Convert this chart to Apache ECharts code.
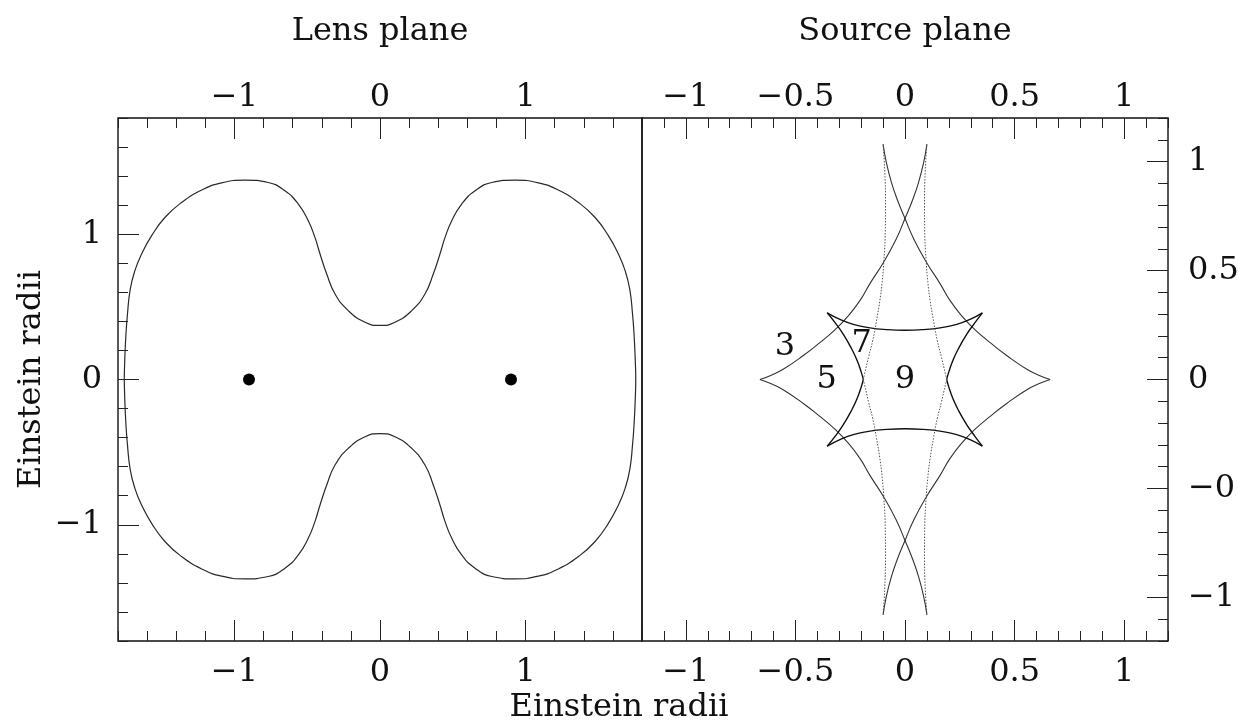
<!DOCTYPE html>
<html>
<head>
<meta charset="utf-8">
<script src="https://cdn.jsdelivr.net/npm/echarts@6/dist/echarts.min.js"></script>
<style>
  html, body { margin: 0; padding: 0; background: #fff; }
  #chart { width: 1238px; height: 721px; }
</style>
</head>
<body>
<div id="chart"></div>
<script>
// Tick values and labels
const lensTicks = [-1, 0, 1];
const sourceTicks = [-1, -0.5, 0, 0.5, 1];

// Point masses in the lens plane (Einstein radii)
const lensPositions = [[-0.9, 0], [0.9, 0]];

// Critical curve in the lens plane, traced once around
const criticalCurve = [
  [-1.757, 0.000], [-1.753, 0.150], [-1.746, 0.300], [-1.735, 0.450], [-1.716, 0.620],
  [-1.684, 0.749], [-1.638, 0.864], [-1.569, 0.990], [-1.478, 1.115], [-1.363, 1.219],
  [-1.225, 1.304], [-1.088, 1.354], [-0.928, 1.372], [-0.768, 1.356], [-0.653, 1.299],
  [-0.561, 1.207], [-0.493, 1.093], [-0.447, 0.978], [-0.412, 0.864], [-0.366, 0.726],
  [-0.309, 0.589], [-0.218, 0.474], [-0.103, 0.394], [0.000, 0.372],
  [0.103, 0.394], [0.218, 0.474], [0.309, 0.589], [0.366, 0.726], [0.412, 0.864],
  [0.447, 0.978], [0.493, 1.093], [0.561, 1.207], [0.653, 1.299], [0.768, 1.356],
  [0.928, 1.372], [1.088, 1.354], [1.225, 1.304], [1.363, 1.219], [1.478, 1.115],
  [1.569, 0.990], [1.638, 0.864], [1.684, 0.749], [1.716, 0.620], [1.735, 0.450],
  [1.746, 0.300], [1.753, 0.150], [1.757, 0.000],
  [1.753, -0.150], [1.746, -0.300], [1.735, -0.450], [1.716, -0.620], [1.684, -0.749],
  [1.638, -0.864], [1.569, -0.990], [1.478, -1.115], [1.363, -1.219], [1.225, -1.304],
  [1.088, -1.354], [0.928, -1.372], [0.768, -1.356], [0.653, -1.299], [0.561, -1.207],
  [0.493, -1.093], [0.447, -0.978], [0.412, -0.864], [0.366, -0.726], [0.309, -0.589],
  [0.218, -0.474], [0.103, -0.394], [0.000, -0.372],
  [-0.103, -0.394], [-0.218, -0.474], [-0.309, -0.589], [-0.366, -0.726], [-0.412, -0.864],
  [-0.447, -0.978], [-0.493, -1.093], [-0.561, -1.207], [-0.653, -1.299], [-0.768, -1.356],
  [-0.928, -1.372], [-1.088, -1.354], [-1.225, -1.304], [-1.363, -1.219], [-1.478, -1.115],
  [-1.569, -0.990], [-1.638, -0.864], [-1.684, -0.749], [-1.716, -0.620], [-1.735, -0.450],
  [-1.746, -0.300], [-1.753, -0.150], [-1.757, 0.000]
];

// Caustic in the source plane: long folds from the side cusps to the tall cusps
const foldLeftUpper = [
  [-0.662, 0.000], [-0.610, 0.020], [-0.556, 0.047], [-0.464, 0.110], [-0.390, 0.168],
  [-0.320, 0.228], [-0.265, 0.285], [-0.205, 0.363], [-0.160, 0.440], [-0.099, 0.536],
  [-0.040, 0.645], [0.000, 0.739], [0.035, 0.825], [0.062, 0.905], [0.085, 0.995], [0.100, 1.080]
];
const foldLeftLower = [
  [-0.662, 0.000], [-0.610, -0.020], [-0.556, -0.047], [-0.464, -0.110], [-0.390, -0.168],
  [-0.320, -0.228], [-0.265, -0.285], [-0.205, -0.363], [-0.160, -0.440], [-0.099, -0.536],
  [-0.040, -0.645], [0.000, -0.739], [0.035, -0.825], [0.062, -0.905], [0.085, -0.995], [0.100, -1.080]
];
const foldRightUpper = [
  [0.662, 0.000], [0.610, 0.020], [0.556, 0.047], [0.464, 0.110], [0.390, 0.168],
  [0.320, 0.228], [0.265, 0.285], [0.205, 0.363], [0.160, 0.440], [0.099, 0.536],
  [0.040, 0.645], [0.000, 0.739], [-0.035, 0.825], [-0.062, 0.905], [-0.085, 0.995], [-0.100, 1.080]
];
const foldRightLower = [
  [0.662, 0.000], [0.610, -0.020], [0.556, -0.047], [0.464, -0.110], [0.390, -0.168],
  [0.320, -0.228], [0.265, -0.285], [0.205, -0.363], [0.160, -0.440], [0.099, -0.536],
  [0.040, -0.645], [0.000, -0.739], [-0.035, -0.825], [-0.062, -0.905], [-0.085, -0.995], [-0.100, -1.080]
];

// Inner caustic edges between the four short cusps
const edgeTop = [
  [-0.355, 0.306], [-0.297, 0.276], [-0.236, 0.253], [-0.160, 0.237], [-0.084, 0.229],
  [0.000, 0.226], [0.084, 0.229], [0.160, 0.237], [0.236, 0.253], [0.297, 0.276], [0.353, 0.306]
];
const edgeBottom = [
  [-0.355, -0.306], [-0.297, -0.276], [-0.236, -0.253], [-0.160, -0.237], [-0.084, -0.229],
  [0.000, -0.226], [0.084, -0.229], [0.160, -0.237], [0.236, -0.253], [0.297, -0.276], [0.353, -0.306]
];
const edgeLeftUpper = [
  [-0.355, 0.306], [-0.320, 0.262], [-0.282, 0.208], [-0.243, 0.140], [-0.218, 0.086],
  [-0.200, 0.035], [-0.190, 0.000]
];
const edgeLeftLower = [
  [-0.355, -0.306], [-0.320, -0.262], [-0.282, -0.208], [-0.243, -0.140], [-0.218, -0.086],
  [-0.200, -0.035], [-0.190, 0.000]
];
const edgeRightUpper = [
  [0.353, 0.306], [0.320, 0.262], [0.282, 0.208], [0.243, 0.140], [0.218, 0.086],
  [0.200, 0.035], [0.190, 0.000]
];
const edgeRightLower = [
  [0.353, -0.306], [0.320, -0.262], [0.282, -0.208], [0.243, -0.140], [0.218, -0.086],
  [0.200, -0.035], [0.190, 0.000]
];

// Near-vertical branches running to the tall cusps
const stemLeftUpper = [
  [-0.190, 0.000], [-0.167, 0.100], [-0.147, 0.180], [-0.130, 0.270], [-0.115, 0.360],
  [-0.104, 0.450], [-0.096, 0.550], [-0.090, 0.680], [-0.089, 0.800], [-0.092, 0.950], [-0.100, 1.080]
];
const stemLeftLower = [
  [-0.190, 0.000], [-0.167, -0.100], [-0.147, -0.180], [-0.130, -0.270], [-0.115, -0.360],
  [-0.104, -0.450], [-0.096, -0.550], [-0.090, -0.680], [-0.089, -0.800], [-0.092, -0.950], [-0.100, -1.080]
];
const stemRightUpper = [
  [0.190, 0.000], [0.167, 0.100], [0.147, 0.180], [0.130, 0.270], [0.115, 0.360],
  [0.104, 0.450], [0.096, 0.550], [0.090, 0.680], [0.089, 0.800], [0.092, 0.950], [0.100, 1.080]
];
const stemRightLower = [
  [0.190, 0.000], [0.167, -0.100], [0.147, -0.180], [0.130, -0.270], [0.115, -0.360],
  [0.104, -0.450], [0.096, -0.550], [0.090, -0.680], [0.089, -0.800], [0.092, -0.950], [0.100, -1.080]
];

// Image multiplicity of each source-plane region
const regionCounts = ['3', '5', '7', '9'];
const regionX = [-0.548, -0.357, -0.198, 0.000];
const regionY = [0.152, 0.000, 0.165, 0.000];

const FONT = 'DejaVu Serif';
const TEXT = '#111';
const fmt = v => String(v).replace('-', '\u2212');

function majorAxis(gridIndex, position, lo, hi, ticks, extra) {
  return Object.assign({
    type: 'value', gridIndex, position, min: lo, max: hi,
    axisLine: { show: false, onZero: false },
    splitLine: { show: false },
    axisTick: { show: true, inside: true, length: 21, customValues: ticks,
                lineStyle: { color: '#222', width: 1 } },
    axisLabel: { show: true, customValues: ticks, formatter: fmt,
                 fontFamily: FONT, fontSize: 32, color: TEXT, margin: 12 }
  }, extra || {});
}
function minorAxis(gridIndex, position, lo, hi, step) {
  return {
    type: 'value', gridIndex, position, min: lo, max: hi, interval: step,
    axisLine: { show: false, onZero: false },
    splitLine: { show: false },
    axisTick: { show: true, inside: true, length: 10, lineStyle: { color: '#222', width: 1 } },
    axisLabel: { show: false }
  };
}
function bareAxis(gridIndex, position, lo, hi) {
  return {
    type: 'value', gridIndex, position, min: lo, max: hi,
    axisLine: { show: false, onZero: false }, splitLine: { show: false },
    axisTick: { show: false }, axisLabel: { show: false }
  };
}

const nameStyle = { fontFamily: FONT, fontSize: 32, color: TEXT };

const xAxis = [
  majorAxis(0, 'bottom', -1.8, 1.8, lensTicks),
  majorAxis(0, 'top', -1.8, 1.8, lensTicks, {
    name: 'Lens plane', nameLocation: 'middle', nameGap: 70, nameTextStyle: nameStyle
  }),
  minorAxis(1, 'bottom', -1.8, 1.8, 0.2),
  minorAxis(1, 'top', -1.8, 1.8, 0.2),
  majorAxis(2, 'bottom', -1.2, 1.2, sourceTicks),
  majorAxis(2, 'top', -1.2, 1.2, sourceTicks, {
    name: 'Source plane', nameLocation: 'middle', nameGap: 70, nameTextStyle: nameStyle
  }),
  minorAxis(3, 'bottom', -1.2, 1.2, 0.1),
  minorAxis(3, 'top', -1.2, 1.2, 0.1)
];
xAxis[0].axisLabel.margin = 16;
xAxis[4].axisLabel.margin = 16;
xAxis[1].axisLabel.margin = 4;
xAxis[5].axisLabel.margin = 4;

const yAxis = [
  majorAxis(0, 'left', -1.8, 1.8, lensTicks, {
    name: 'Einstein radii', nameLocation: 'middle', nameGap: 70, nameRotate: 90,
    nameTextStyle: nameStyle
  }),
  bareAxis(0, 'right', -1.8, 1.8),
  minorAxis(1, 'left', -1.8, 1.8, 0.2),
  majorAxis(2, 'right', -1.2, 1.2, sourceTicks),
  bareAxis(2, 'left', -1.2, 1.2),
  minorAxis(3, 'right', -1.2, 1.2, 0.1)
];
yAxis[0].axisLabel.margin = 16;
yAxis[3].axisLabel.margin = 20;

const box = { outerBoundsMode: 'none', containLabel: false };
const frame = { show: true, borderColor: '#111', borderWidth: 1.4, backgroundColor: 'transparent' };
const grid = [
  Object.assign({ left: 118, top: 118, width: 524, height: 523 }, box, frame),
  Object.assign({ left: 118, top: 118, width: 524, height: 523 }, box),
  Object.assign({ left: 642, top: 118, width: 526, height: 523 }, box, frame),
  Object.assign({ left: 642, top: 118, width: 526, height: 523 }, box)
];

function curve(data, color, width, type, xi, yi) {
  return {
    type: 'line', data, xAxisIndex: xi, yAxisIndex: yi,
    showSymbol: false, symbol: 'none', smooth: 0.5, smoothConstraint: false, silent: true,
    lineStyle: { color, width, type: type || 'solid' }
  };
}
const srcCurve = (d, c, w, t) => curve(d, c, w, t, 4, 3);

const series = [
  curve(criticalCurve, '#2a2a2a', 1.2, 'solid', 0, 0),
  {
    type: 'scatter', xAxisIndex: 0, yAxisIndex: 0, data: lensPositions,
    symbol: 'circle', symbolSize: 12, itemStyle: { color: '#000', opacity: 1 }, silent: true
  },
  srcCurve(foldLeftUpper, '#333', 1.1),
  srcCurve(foldLeftLower, '#333', 1.1),
  srcCurve(foldRightUpper, '#333', 1.1),
  srcCurve(foldRightLower, '#333', 1.1),
  srcCurve(edgeTop, '#111', 1.4),
  srcCurve(edgeBottom, '#111', 1.4),
  srcCurve(edgeLeftUpper, '#111', 1.4),
  srcCurve(edgeLeftLower, '#111', 1.4),
  srcCurve(edgeRightUpper, '#111', 1.4),
  srcCurve(edgeRightLower, '#111', 1.4),
  srcCurve(stemLeftUpper, '#555', 1, [1.5, 1.5]),
  srcCurve(stemLeftLower, '#555', 1, [1.5, 1.5]),
  srcCurve(stemRightUpper, '#555', 1, [1.5, 1.5]),
  srcCurve(stemRightLower, '#555', 1, [1.5, 1.5]),
  {
    type: 'scatter', xAxisIndex: 4, yAxisIndex: 3, symbolSize: 0, silent: true,
    itemStyle: { color: '#000', opacity: 1 },
    data: regionCounts.map((c, i) => [regionX[i], regionY[i], c]),
    label: {
      show: true, position: 'inside', formatter: p => p.data[2],
      fontFamily: FONT, fontSize: 32, color: TEXT,
      textBorderWidth: 0, textShadowBlur: 0
    }
  }
];

const chart = echarts.init(document.getElementById('chart'), null, { renderer: 'canvas' });
chart.setOption({
  animation: false,
  backgroundColor: '#fff',
  title: {
    text: 'Einstein radii', left: 'center', top: 692, padding: 0,
    textStyle: { fontFamily: FONT, fontSize: 32, fontWeight: 'normal', color: TEXT }
  },
  grid, xAxis, yAxis, series
});
</script>
</body>
</html>
